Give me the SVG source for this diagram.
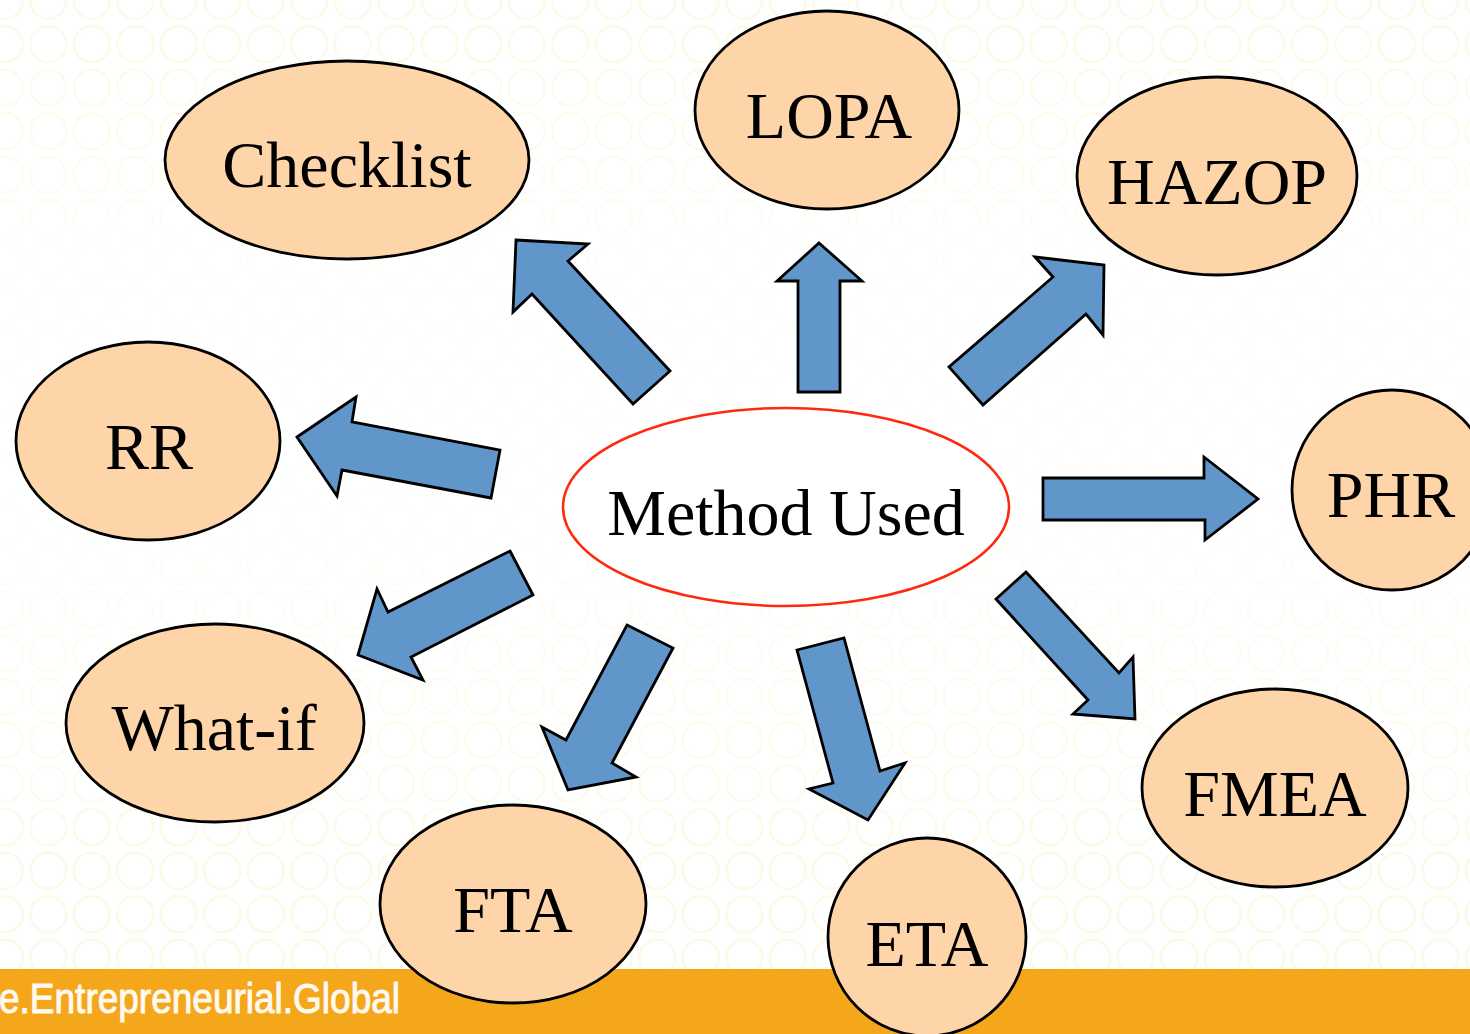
<svg xmlns="http://www.w3.org/2000/svg" width="1470" height="1034" viewBox="0 0 1470 1034">
  <defs>
    <pattern id="rings" x="-17" y="-21" width="43.5" height="43.5" patternUnits="userSpaceOnUse">
      <circle cx="21.75" cy="21.75" r="18" fill="none" stroke="#fbfae6" stroke-width="2.5"/>
    </pattern>
    <linearGradient id="fade" x1="0" y1="0" x2="0" y2="1">
      <stop offset="0" stop-color="#fff" stop-opacity="1"/>
      <stop offset="0.15" stop-color="#fff" stop-opacity="0.7"/>
      <stop offset="0.3" stop-color="#fff" stop-opacity="0.15"/>
      <stop offset="0.5" stop-color="#fff" stop-opacity="0.05"/>
      <stop offset="0.65" stop-color="#fff" stop-opacity="0.5"/>
      <stop offset="0.9" stop-color="#fff" stop-opacity="1"/>
      <stop offset="1" stop-color="#fff" stop-opacity="1"/>
    </linearGradient>
    <mask id="fadeMask">
      <rect x="0" y="0" width="1470" height="970" fill="url(#fade)"/>
    </mask>
  </defs>
  <style>
    .node ellipse { fill: #fdd5a9; stroke: #000; stroke-width: 2.8; }
    .node text { font-family: "Liberation Serif", "Times New Roman", serif; font-size: 66px; fill: #000; text-anchor: middle; }
    .arrow { fill: #6096c9; stroke: #000; stroke-width: 2.8; stroke-linejoin: miter; }
    .center ellipse { fill: #fff; stroke: #ff2a0e; stroke-width: 2.5; }
  </style>

  <rect x="0" y="0" width="1470" height="1034" fill="#fff"/>
  <rect x="0" y="0" width="1470" height="970" fill="url(#rings)" mask="url(#fadeMask)"/>

  <g id="banner">
    <rect x="0" y="969" width="1470" height="65" fill="#f5a71c"/>
    <text x="-1" y="1013" font-family="Liberation Sans, Arial, sans-serif" font-size="42" fill="#fff9f0" stroke="#fff9f0" stroke-width="1" textLength="401" lengthAdjust="spacingAndGlyphs">e.Entrepreneurial.Global</text>
  </g>

  <g id="connectors">
    <polygon class="arrow" points="516,240 588,244 568,261 670,371 633,404 532,294 513,312"/>
    <polygon class="arrow" points="819,243 862,281 840,281 840,392 798,392 798,281 777,281"/>
    <polygon class="arrow" points="1035,257 1104,265 1103,335 1086,314 983,405 949,367 1053,277"/>
    <polygon class="arrow" points="297,437 356,397 352,422 500,450 491,498 342,470 337,496"/>
    <polygon class="arrow" points="1043,478 1204,478 1204,457 1258,499 1205,540 1205,520 1043,520"/>
    <polygon class="arrow" points="510,551 533,595 411,657 423,680 358,655 377,589 388,612"/>
    <polygon class="arrow" points="627,625 673,648 612,763 636,777 568,790 542,727 566,740"/>
    <polygon class="arrow" points="797,650 844,638 880,771 905,763 868,820 809,789 833,783"/>
    <polygon class="arrow" points="1026,572 996,599 1088,700 1073,714 1135,719 1133,657 1119,673"/>
  </g>

  <g id="method-used" class="center node">
    <ellipse cx="786" cy="507" rx="223" ry="99"/>
    <text x="786" y="535">Method Used</text>
  </g>
  <g id="checklist" class="node">
    <ellipse cx="347" cy="160" rx="182" ry="99"/>
    <text x="347" y="187">Checklist</text>
  </g>
  <g id="lopa" class="node">
    <ellipse cx="827" cy="110" rx="132" ry="99"/>
    <text x="829" y="138">LOPA</text>
  </g>
  <g id="hazop" class="node">
    <ellipse cx="1217" cy="176" rx="140" ry="99"/>
    <text x="1217" y="204">HAZOP</text>
  </g>
  <g id="rr" class="node">
    <ellipse cx="148" cy="441" rx="132" ry="99"/>
    <text x="149" y="469">RR</text>
  </g>
  <g id="phr" class="node">
    <ellipse cx="1392" cy="490" rx="100" ry="100"/>
    <text x="1391" y="517">PHR</text>
  </g>
  <g id="what-if" class="node">
    <ellipse cx="215" cy="723" rx="149" ry="99"/>
    <text x="214" y="750">What-if</text>
  </g>
  <g id="fta" class="node">
    <ellipse cx="513" cy="904" rx="133" ry="99"/>
    <text x="513" y="932">FTA</text>
  </g>
  <g id="eta" class="node">
    <ellipse cx="927" cy="937" rx="99" ry="99"/>
    <text x="927" y="966">ETA</text>
  </g>
  <g id="fmea" class="node">
    <ellipse cx="1275" cy="788" rx="133" ry="99"/>
    <text x="1275" y="816">FMEA</text>
  </g>
</svg>
